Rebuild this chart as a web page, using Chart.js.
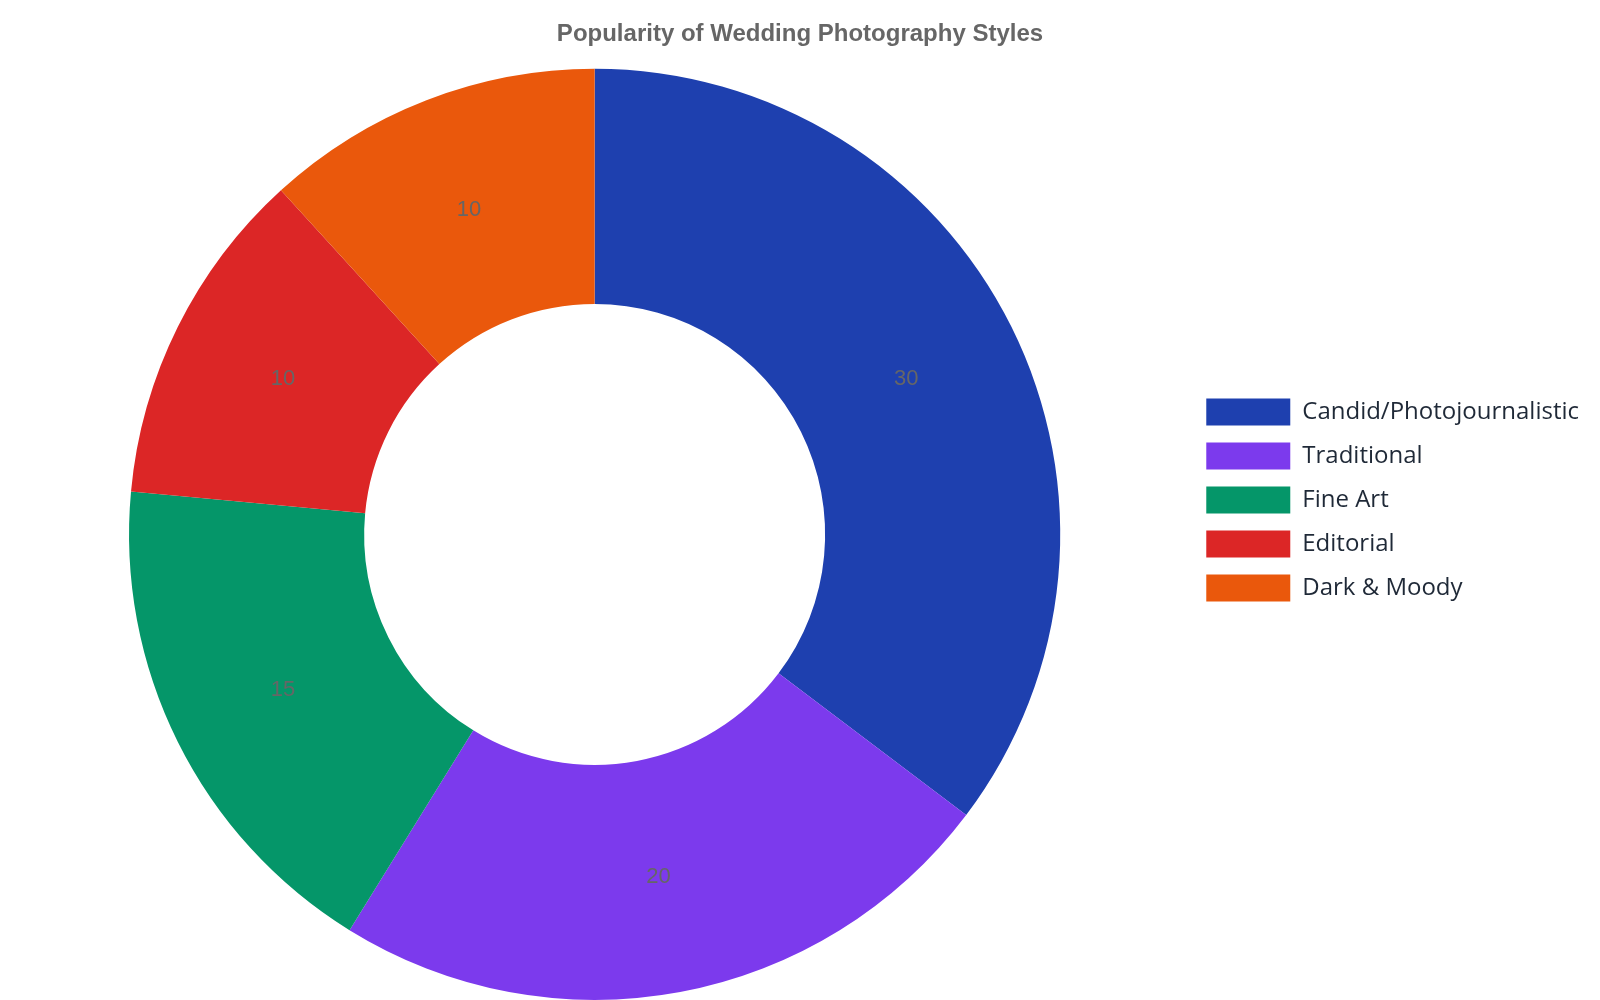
<!DOCTYPE html>
<html>
<head>
<meta charset="utf-8">
<title>Popularity of Wedding Photography Styles</title>
<script src="https://cdn.jsdelivr.net/npm/chart.js@4.4.1/dist/chart.umd.min.js"></script>
<style>
  html, body { margin: 0; padding: 0; background: #fff; }
  #wrap { width: 1600px; height: 1000px; position: relative; }
</style>
</head>
<body>
<div id="wrap"><canvas id="styleChart"></canvas></div>
<script>
/* ================================
   Data
================================ */
const styles = ["Candid/Photojournalistic", "Traditional", "Fine Art", "Editorial", "Dark & Moody"];
const popularity = [30, 20, 15, 10, 10];
const sliceColors = ["#1e40af", "#7c3aed", "#059669", "#dc2626", "#ea580c"];

/* ================================
   Value labels on each slice
================================ */
const sliceLabels = {
  id: "sliceLabels",
  afterDatasetsDraw(chart) {
    const ctx = chart.ctx;
    const meta = chart.getDatasetMeta(0);
    ctx.save();
    ctx.font = "22px 'Liberation Sans', Arial, sans-serif";
    ctx.fillStyle = "#666666";
    ctx.textAlign = "center";
    ctx.textBaseline = "middle";
    meta.data.forEach((arc, i) => {
      const p = arc.tooltipPosition();
      ctx.fillText(String(popularity[i]), p.x, p.y);
    });
    ctx.restore();
  }
};

/* ================================
   A little extra room on the legend's right side
================================ */
const legendRoom = {
  id: "legendRoom",
  beforeLayout(chart) {
    const legend = chart.legend;
    if (!legend || legend._roomAdded) return;
    const fit = legend.fit.bind(legend);
    legend.fit = function () {
      fit();
      this.width += 11;
    };
    legend._roomAdded = true;
  }
};

/* ================================
   Chart
================================ */
new Chart(document.getElementById("styleChart"), {
  type: "doughnut",
  data: {
    labels: styles,
    datasets: [{
      data: popularity,
      backgroundColor: sliceColors,
      borderWidth: 0
    }]
  },
  options: {
    responsive: true,
    maintainAspectRatio: false,
    animation: false,
    cutout: "49.5%",
    layout: { padding: 0 },
    plugins: {
      title: {
        display: true,
        text: "Popularity of Wedding Photography Styles",
        color: "#666666",
        font: { family: "'Liberation Sans', Arial, sans-serif", size: 24, weight: "bold" },
        padding: { top: 20, bottom: 20 }
      },
      legend: {
        position: "right",
        labels: {
          boxWidth: 84,
          boxHeight: 27,
          padding: 17,
          color: "#1f2937",
          font: { family: "'Open Sans', 'Noto Sans', sans-serif", size: 24 }
        }
      },
      tooltip: { enabled: false }
    }
  },
  plugins: [sliceLabels, legendRoom]
});
</script>
</body>
</html>
